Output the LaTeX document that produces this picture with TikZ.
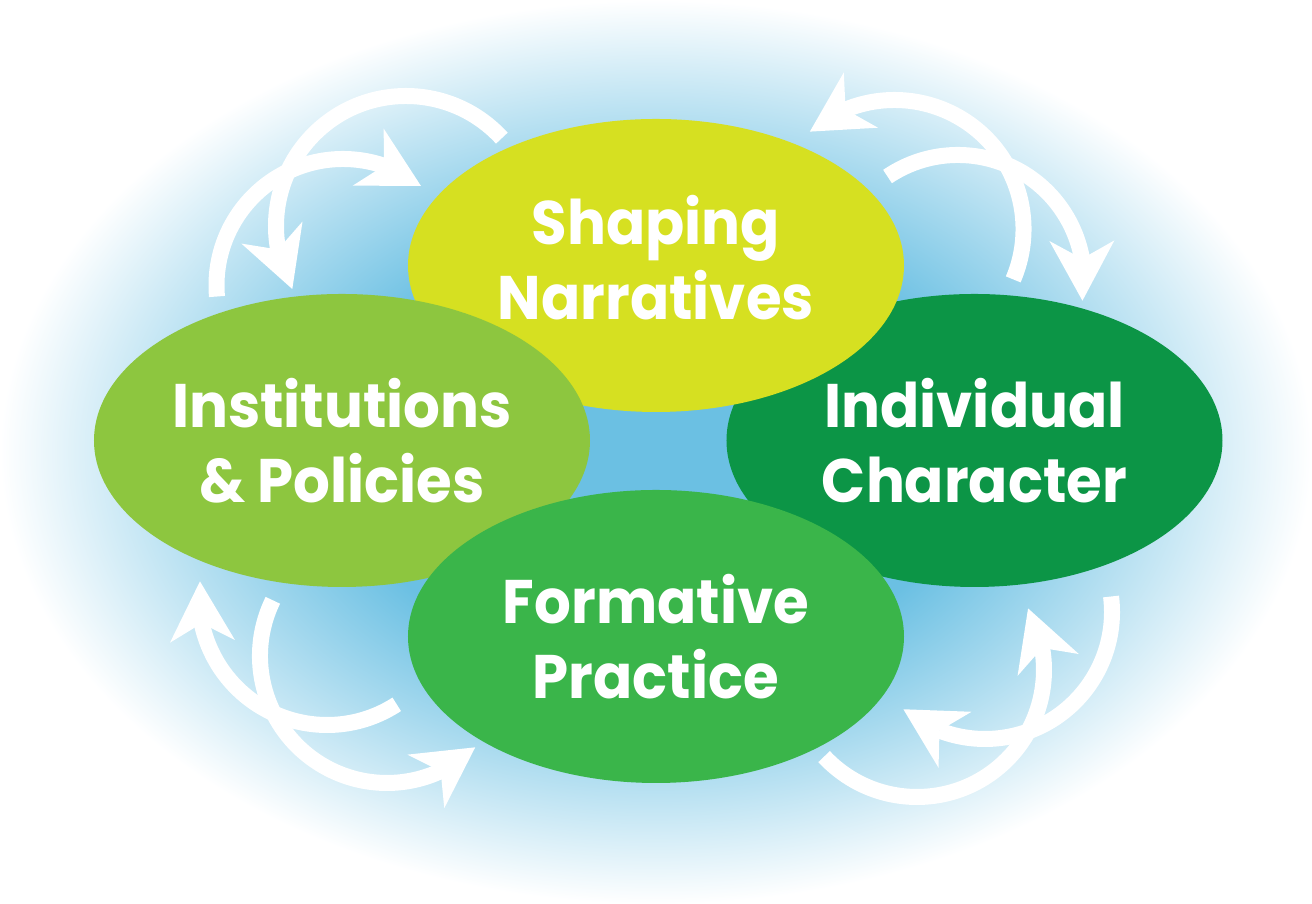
\documentclass[tikz,border=0pt]{standalone}
\usepackage{xcolor}
\usepackage{fontspec}
\usepackage{tikz}
\usetikzlibrary{positioning}
\usetikzlibrary{shapes.geometric,arrows.meta,bending}

\newfontfamily\blobfont{Poppins}[FakeStretch=0.94]

\definecolor{bgblue}{HTML}{6BC0E3}
\definecolor{shapingc}{HTML}{D6E021}
\definecolor{instc}{HTML}{8DC63F}
\definecolor{indivc}{HTML}{0C9546}
\definecolor{formc}{HTML}{3AB54A}

\pgfdeclareradialshading{glow}{\pgfpoint{0bp}{0bp}}{color(0bp)=(bgblue); color(12bp)=(bgblue); color(25bp)=(white); color(50bp)=(white)}

\tikzset{
  blob/.style={ellipse, minimum width=4.96cm, minimum height=2.93cm, inner sep=0pt,
    text=white, align=center, font=\blobfont\bfseries\fontsize{17.5}{21.3}\selectfont},
  flow/.style={draw=white, line width=0.16cm,
    -{Stealth[length=6mm, width=6.5mm, inset=1.8mm, line width=0pt]}}
}

\begin{document}
\begin{tikzpicture}
			\useasboundingbox (0,0) rectangle (13.12,9.04);
			\fill[white] (0,0) rectangle (13.12,9.04);
			\shade[shading=glow] (6.56,4.52) ellipse [x radius=6.56, y radius=4.52];
			
			\node[blob, fill=indivc] (ic) at (9.745,4.635) {Individual\\Character};
			\node[blob, fill=shapingc, on grid, text depth=0.16cm] (sn) [above left=1.75cm and 3.185cm of ic] {Shaping\\Narratives};
			\node[blob, fill=instc, on grid] (ip) [below left=1.75cm and 3.14cm of sn] {Institutions\\\& Policies};
			\node[blob, fill=formc, on grid] (fp) [below=3.71cm of sn] {Formative\\Practice};
			
			\draw[flow] ([shift={(42.5:1.30)}]4.06,6.78) arc[start angle=42.5, end angle=209, radius=1.30];
			\draw[flow] ([shift={(185:1.265)}]3.43,6.185) arc[start angle=185, end angle=52, radius=1.265];
			
			\draw[flow] ([shift={(-23:1.29)}]8.945,6.75) arc[start angle=-23, end angle=131, radius=1.29];
			\draw[flow] ([shift={(124:1.26)}]9.58,6.23) arc[start angle=124, end angle=-9, radius=1.26];
			
			\draw[flow] ([shift={(303:1.28)}]3.27,3.07) arc[start angle=303, end angle=173, radius=1.28];
			\draw[flow] ([shift={(154:1.27)}]3.87,2.48) arc[start angle=154, end angle=314, radius=1.27];
			
			\draw[flow] ([shift={(7:1.27)}]9.85,2.92) arc[start angle=7, end angle=-130, radius=1.27];
			\draw[flow] ([shift={(223:1.27)}]9.17,2.34) arc[start angle=223, end angle=389, radius=1.27];
\end{tikzpicture}
\end{document}
